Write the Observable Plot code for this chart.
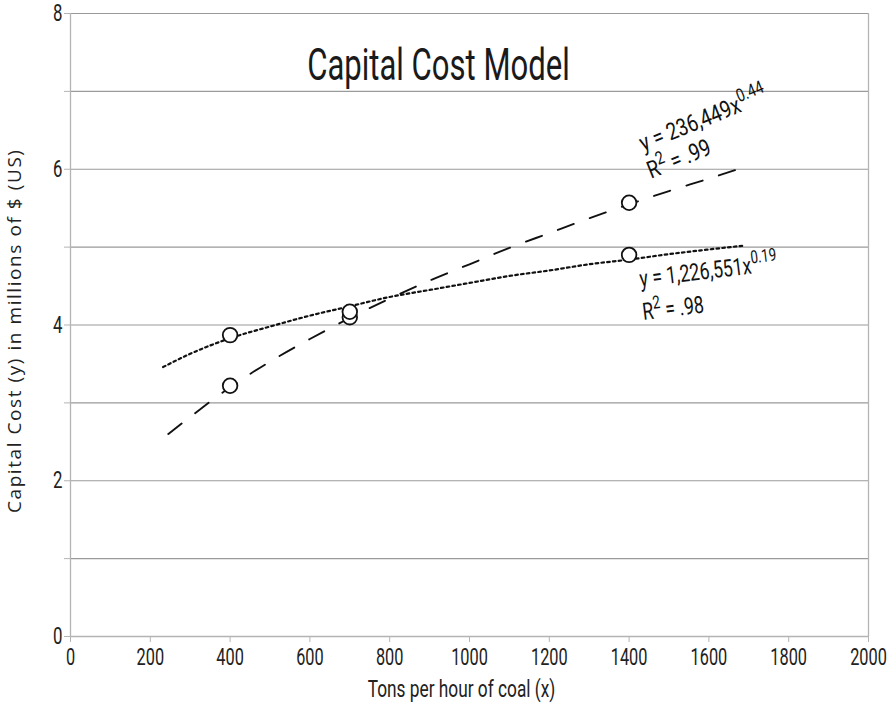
<!DOCTYPE html>
<html>
<head>
<meta charset="utf-8">
<script src="https://cdn.jsdelivr.net/npm/d3@7"></script>
<script src="https://cdn.jsdelivr.net/npm/@observablehq/plot@0.6"></script>
<style>
  html, body { margin: 0; padding: 0; background: #fff; }
  #chart svg { display: block; }
</style>
</head>
<body>
<div id="chart"></div>
<script>
// Observed data points (tons/hour, capital cost in millions $)
const obsX = [400, 700, 1400];
const dashedObsY = [3.22, 4.10, 5.57];
const dottedObsY = [3.87, 4.17, 4.90];

// Trendlines
const dashedTrendX = [245, 300, 400, 500, 600, 700, 800, 900, 1000, 1100, 1200, 1300, 1400, 1500, 1600, 1690];
const dashedTrendY = [2.60, 2.82, 3.20, 3.53, 3.82, 4.09, 4.34, 4.57, 4.78, 4.99, 5.18, 5.37, 5.55, 5.72, 5.88, 6.03];
const dottedTrendX = [232, 300, 400, 500, 600, 700, 800, 900, 1000, 1100, 1200, 1300, 1400, 1500, 1600, 1690];
const dottedTrendY = [3.46, 3.63, 3.83, 3.98, 4.12, 4.24, 4.36, 4.45, 4.54, 4.63, 4.70, 4.78, 4.84, 4.91, 4.97, 5.02];

const xTicks = [0, 200, 400, 600, 800, 1000, 1200, 1400, 1600, 1800, 2000];
const yTicks = [0, 1, 2, 3, 4, 5, 6, 7, 8];

const titleText = "Capital Cost Model";
const xLabel = "Tons per hour of coal (x)";
const yLabel = "Capital Cost (y) in millions of $ (US)";
const eq1 = ["y = 236,449x", "0.44", "R", "2", " = .99"];
const eq2 = ["y = 1,226,551x", "0.19", "R", "2", " = .98"];

const COND = "Roboto, 'Liberation Sans', sans-serif";
const SANS = "'Open Sans', 'Noto Sans', sans-serif";
const GRID = "#9a9a9a";
const AXIS = "#b4b4b4";

const dashed = dashedTrendX.map((x, i) => ({x, y: dashedTrendY[i]}));
const dotted = dottedTrendX.map((x, i) => ({x, y: dottedTrendY[i]}));
const points = [
  ...obsX.map((x, i) => ({x, y: dashedObsY[i]})),
  ...obsX.map((x, i) => ({x, y: dottedObsY[i]}))
];

const plot = Plot.plot({
  width: 889,
  height: 702,
  marginLeft: 70,
  marginRight: 21,
  marginTop: 13,
  marginBottom: 66,
  style: {fontFamily: COND, background: "#fff", overflow: "visible"},
  x: {type: "linear", domain: [0, 2000]},
  y: {type: "linear", domain: [0, 8]},
  marks: [
    Plot.ruleY(yTicks.filter(d => d > 0), {stroke: GRID, strokeWidth: 1.2}),
    Plot.ruleX([2000], {stroke: AXIS, strokeWidth: 1.3}),
    Plot.ruleX([0], {stroke: AXIS, strokeWidth: 1.3}),
    Plot.ruleY([0], {stroke: AXIS, strokeWidth: 1.3}),
    Plot.axisY(yTicks, {tickSize: 6, stroke: AXIS, tickFormat: d => (d % 2 === 0 ? d : ""), fontSize: 24, fill: "#222", tickPadding: 2, label: null}),
    Plot.axisX(xTicks, {tickSize: 6, stroke: AXIS, tickFormat: d => String(d), fontSize: 24, fill: "#222", tickPadding: 5, label: null}),
    Plot.line(dashed, {x: "x", y: "y", stroke: "#111", strokeWidth: 1.9, strokeDasharray: "17,17", curve: "monotone-x"}),
    Plot.line(dotted, {x: "x", y: "y", stroke: "#111", strokeWidth: 2.2, strokeDasharray: "2.6,3.2", curve: "monotone-x"}),
    Plot.dot(points, {x: "x", y: "y", r: 7.3, stroke: "#111", strokeWidth: 1.8, fill: "#fff"}),
    Plot.text([titleText], {frameAnchor: "top", dx: -31, dy: 35, fontSize: 45, fontFamily: COND, fill: "#1a1a1a", text: d => d}),
    Plot.text([xLabel], {frameAnchor: "bottom", dx: -8, dy: 60, fontSize: 24, fontFamily: COND, fill: "#222", text: d => d}),
    Plot.text([yLabel], {frameAnchor: "left", textAnchor: "middle", dx: -56, dy: 6.5, rotate: -90, fontSize: 19, fontFamily: SANS, fill: "#222", text: d => d})
  ]
});

document.getElementById("chart").appendChild(plot);

const svg = d3.select(plot);
const byText = s => svg.selectAll("text").filter(function () { return this.textContent === s; });
// Emulate the condensed typeface of the original
function condense(sel, factor) {
  sel.each(function () {
    const len = this.getComputedTextLength();
    if (len > 0) {
      this.setAttribute("textLength", len * factor);
      this.setAttribute("lengthAdjust", "spacingAndGlyphs");
    }
  });
}
condense(svg.selectAll('g[aria-label="x-axis tick label"] text'), 0.68);
condense(svg.selectAll('g[aria-label="y-axis tick label"] text'), 0.7);
condense(byText(titleText), 0.69);
condense(byText(xLabel), 0.72);
byText(yLabel).attr("textLength", 363).attr("lengthAdjust", "spacing");

// Equation annotations with superscripts
const sx = plot.scale("x"), sy = plot.scale("y");
function annotate(xv, yv, angle, parts, off2, k) {
  const g = svg.append("g")
    .attr("transform", `translate(${sx.apply(xv)},${sy.apply(yv)}) rotate(${angle}) scale(${k},1)`)
    .attr("font-family", COND).attr("font-size", 24).attr("fill", "#111")
    .attr("text-anchor", "start");
  const t1 = g.append("text").attr("x", 0).attr("y", 0);
  t1.append("tspan").text(parts[0]);
  t1.append("tspan").attr("dy", -10).attr("font-size", 18).text(parts[1]);
  const t2 = g.append("text").attr("x", off2[0] / k).attr("y", off2[1]);
  t2.append("tspan").text(parts[2]);
  t2.append("tspan").attr("dy", -10).attr("font-size", 18).text(parts[3]);
  t2.append("tspan").attr("dy", 10).text(parts[4]);
}
annotate(1437, 6.22, -22, eq1, [-3, 28], 0.8);
annotate(1430, 4.48, -7, eq2, [-1, 33], 0.74);
</script>
</body>
</html>
